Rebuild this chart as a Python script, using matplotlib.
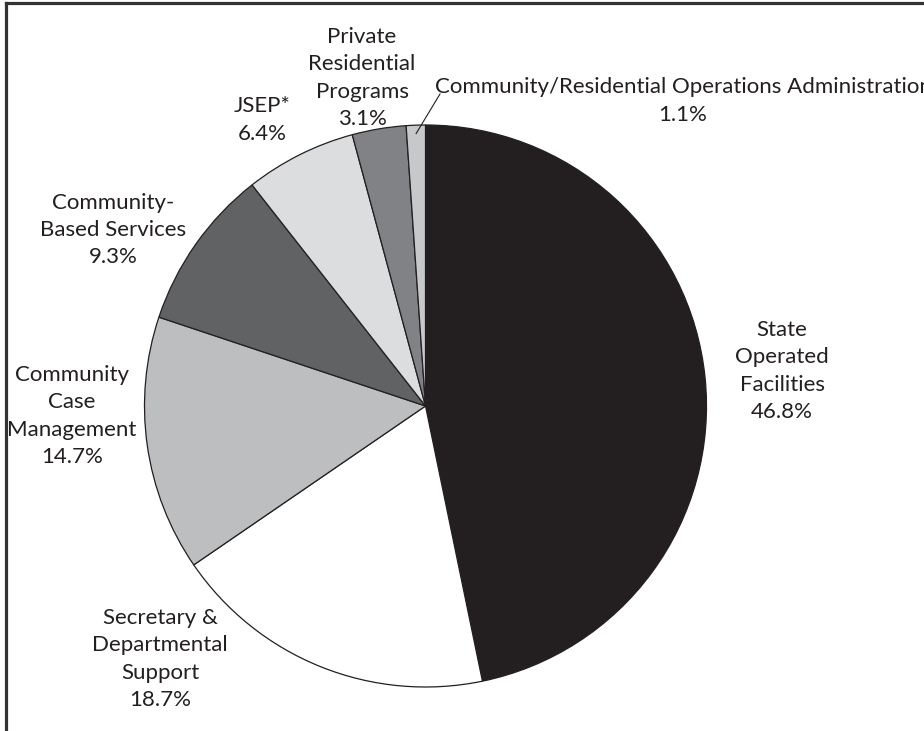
import numpy as np
import matplotlib
matplotlib.use("Agg")
import matplotlib.pyplot as plt

plt.rcParams['font.family'] = ['Lato', 'DejaVu Sans']

# slice data, clockwise from the top
labels = ["State\nOperated\nFacilities",
          "Secretary &\nDepartmental\nSupport",
          "Community\nCase\nManagement",
          "Community-\nBased Services",
          "JSEP*",
          "Private\nResidential\nPrograms",
          "Community/Residential Operations Administration"]
shares = [46.8, 18.7, 14.7, 9.3, 6.4, 3.1, 1.1]
colors = ["#231f20", "#ffffff", "#bcbec0", "#616264", "#dcdddf", "#808285", "#c7c8ca"]

# label centres in pixel coords (x, y from top)
label_pos = [(782, 371), (160, 659), (72, 416), (113, 230), (262, 120), (362, 78), (683, 101)]

W, H = 924, 731
cx, cy, R = 425.5, 406, 281

fig = plt.figure(figsize=(W / 100, H / 100), dpi=100)
ax = fig.add_axes([0, 0, 1, 1])

wedges, _ = ax.pie(shares, colors=colors, startangle=90, counterclock=False,
                   center=(cx, H - cy), radius=R, frame=True,
                   wedgeprops=dict(edgecolor="#231f20", linewidth=0.9))

ax.set_xlim(0, W)
ax.set_ylim(0, H)
ax.set_aspect('equal')
ax.axis('off')

for lab, val, (x, y) in zip(labels, shares, label_pos):
    ax.text(x, H - y, f"{lab}\n{val:.1f}%", ha='center', va='center',
            fontsize=16, color="#231f20", linespacing=1.45)

# leader line for the smallest slice
w = wedges[-1]
ang = np.deg2rad((w.theta1 + w.theta2) / 2)
px, py = cx + 0.97 * R * np.cos(ang), H - cy + 0.97 * R * np.sin(ang)
ax.plot([px, 440], [py, H - 94], color="#231f20", lw=0.8)

# frame (only left and top edges are visible in the crop)
ax.plot([5.5, 5.5], [0, H - 2.5], color="#333333", lw=2.3, solid_capstyle='projecting')
ax.plot([5.5, W], [H - 2.5, H - 2.5], color="#333333", lw=2.3, solid_capstyle='projecting')

fig.savefig("out.png", dpi=100)
